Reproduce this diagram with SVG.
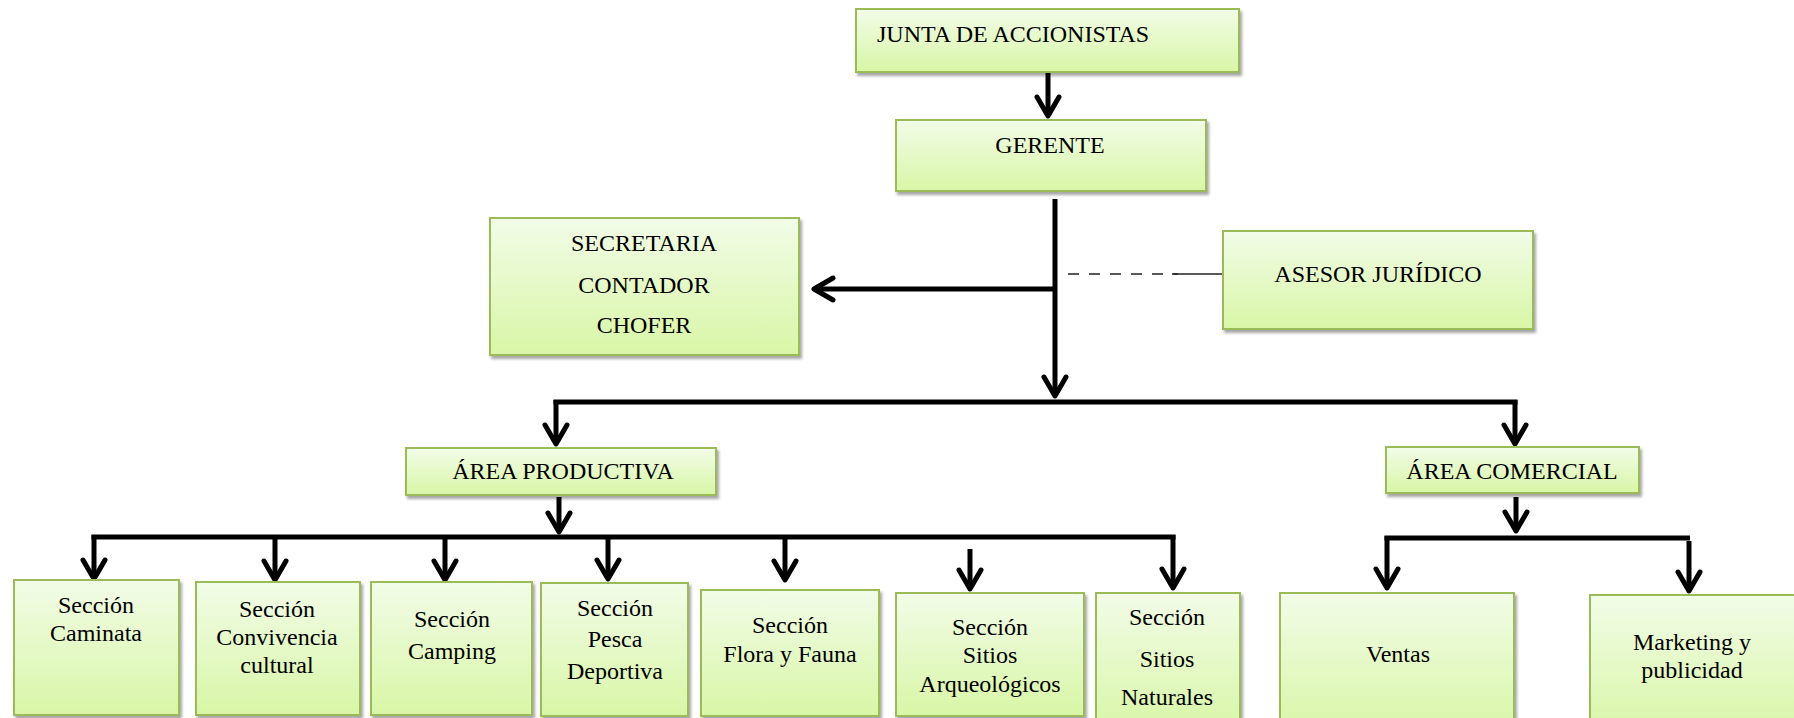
<svg xmlns="http://www.w3.org/2000/svg" width="1794" height="718" viewBox="0 0 1794 718">
<defs>
<linearGradient id="g" x1="0" y1="0" x2="0" y2="1">
<stop offset="0" stop-color="#f2fce8"/>
<stop offset="1" stop-color="#d8f6a6"/>
</linearGradient>
<filter id="sh" x="-10%" y="-10%" width="130%" height="140%">
<feDropShadow dx="2" dy="3" stdDeviation="1.8" flood-color="#000" flood-opacity="0.35"/>
</filter>
<marker id="ah" markerUnits="userSpaceOnUse" viewBox="-26 -16 32 32" markerWidth="32" markerHeight="32" refX="0" refY="0" orient="auto">
<path d="M-19,-11 L0,0 L-19,11" fill="none" stroke="#000" stroke-width="5" stroke-linecap="round" stroke-linejoin="round"/>
</marker>
</defs>
<style>
.box{fill:url(#g);stroke:#9bbb59;stroke-width:2;filter:url(#sh)}
text{font-family:"Liberation Serif","Times New Roman",serif;font-size:24px;fill:#000}
.c{text-anchor:middle}
.ln{fill:none;stroke:#000;stroke-width:5}
.ar{fill:none;stroke:#000;stroke-width:5;marker-end:url(#ah)}
.dash{fill:none;stroke:#222;stroke-width:1.6}
</style>
<rect width="1794" height="718" fill="#fff"/>
<g id="connectors">
<path class="ar" d="M1048,72 V116"/>
<path class="ar" d="M1055,199 V396"/>
<path class="ar" d="M1055,289 H814"/>
<path class="dash" d="M1068,274 H1178" stroke-dasharray="11 10"/>
<path class="dash" d="M1172,274 H1223"/>
<path class="ln" d="M553.5,402 H1517.5"/>
<path class="ar" d="M556,400 V444"/>
<path class="ar" d="M1515,400 V444"/>
<path class="ar" d="M559,497 V532"/>
<path class="ln" d="M91.5,537 H1175.5"/>
<path class="ar" d="M94,535 V579"/>
<path class="ar" d="M275,535 V580"/>
<path class="ar" d="M445,535 V580"/>
<path class="ar" d="M608,535 V579"/>
<path class="ar" d="M785,535 V580"/>
<path class="ar" d="M970,549 V589"/>
<path class="ar" d="M1173,535 V588"/>
<path class="ar" d="M1516,497 V531"/>
<path class="ln" d="M1384.5,538 H1690"/>
<path class="ar" d="M1387,536 V588"/>
<path class="ar" d="M1689,541 V591"/>
</g>
<g id="junta"><rect class="box" x="856" y="9" width="383" height="63"/><text x="877" y="42">JUNTA DE ACCIONISTAS</text></g>
<g id="gerente"><rect class="box" x="896" y="120" width="310" height="71"/><text class="c" x="1050" y="153">GERENTE</text></g>
<g id="secretaria"><rect class="box" x="490" y="218" width="309" height="137"/><text class="c" x="644" y="251">SECRETARIA</text><text class="c" x="644" y="293">CONTADOR</text><text class="c" x="644" y="333">CHOFER</text></g>
<g id="asesor"><rect class="box" x="1223" y="231" width="310" height="98"/><text class="c" x="1378" y="282">ASESOR JURÍDICO</text></g>
<g id="area-productiva"><rect class="box" x="406" y="448" width="310" height="47"/><text class="c" x="563" y="479">ÁREA PRODUCTIVA</text></g>
<g id="area-comercial"><rect class="box" x="1386" y="447" width="253" height="46"/><text class="c" x="1512" y="479">ÁREA COMERCIAL</text></g>
<g id="caminata"><rect class="box" x="14" y="580" width="165" height="135"/><text class="c" x="96" y="613">Sección</text><text class="c" x="96" y="641">Caminata</text></g>
<g id="convivencia"><rect class="box" x="196" y="582" width="164" height="133"/><text class="c" x="277" y="617">Sección</text><text class="c" x="277" y="645">Convivencia</text><text class="c" x="277" y="673">cultural</text></g>
<g id="camping"><rect class="box" x="371" y="582" width="161" height="133"/><text class="c" x="452" y="627">Sección</text><text class="c" x="452" y="659">Camping</text></g>
<g id="pesca"><rect class="box" x="541" y="583" width="147" height="133"/><text class="c" x="615" y="616">Sección</text><text class="c" x="615" y="647">Pesca</text><text class="c" x="615" y="679">Deportiva</text></g>
<g id="flora"><rect class="box" x="701" y="590" width="178" height="126"/><text class="c" x="790" y="633">Sección</text><text class="c" x="790" y="662">Flora y Fauna</text></g>
<g id="arqueologicos"><rect class="box" x="896" y="593" width="188" height="123"/><text class="c" x="990" y="635">Sección</text><text class="c" x="990" y="663">Sitios</text><text class="c" x="990" y="692">Arqueológicos</text></g>
<g id="naturales"><rect class="box" x="1096" y="593" width="144" height="140"/><text class="c" x="1167" y="625">Sección</text><text class="c" x="1167" y="667">Sitios</text><text class="c" x="1167" y="705">Naturales</text></g>
<g id="ventas"><rect class="box" x="1280" y="593" width="234" height="140"/><text class="c" x="1398" y="662">Ventas</text></g>
<g id="marketing"><rect class="box" x="1590" y="595" width="220" height="140"/><text class="c" x="1692" y="650">Marketing y</text><text class="c" x="1692" y="678">publicidad</text></g>
</svg>
